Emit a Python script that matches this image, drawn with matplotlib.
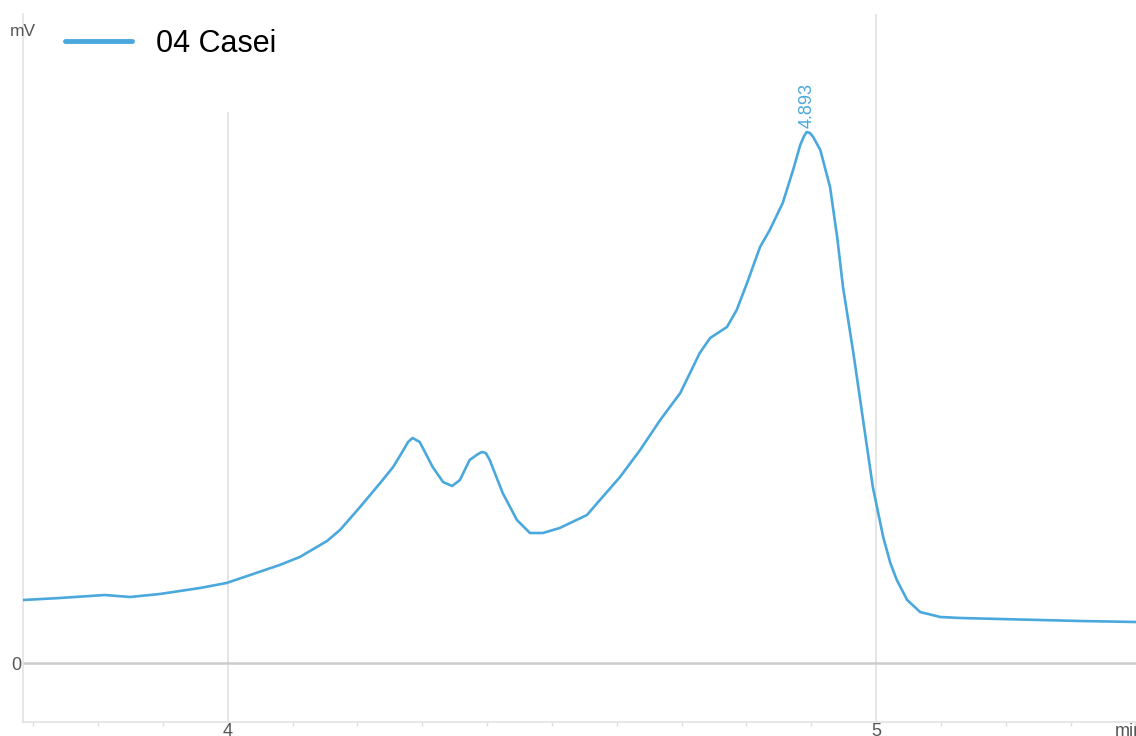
import matplotlib
matplotlib.use("Agg")
import matplotlib.pyplot as plt
from matplotlib.patches import Rectangle
from matplotlib.ticker import MultipleLocator

# Chromatogram trace: retention time (min) and detector signal (mV)
time_min = [3.684, 3.741, 3.810, 3.849, 3.895, 3.957, 3.998, 4.039, 4.080, 4.111,
            4.153, 4.173, 4.204, 4.235, 4.255, 4.270, 4.278, 4.285, 4.296, 4.316,
            4.332, 4.346, 4.358, 4.373, 4.386, 4.392, 4.398, 4.404, 4.424, 4.446,
            4.466, 4.486, 4.512, 4.554, 4.574, 4.605, 4.636, 4.667, 4.698, 4.728,
            4.744, 4.770, 4.785, 4.801, 4.821, 4.836, 4.856, 4.872, 4.883, 4.889,
            4.893, 4.898, 4.903, 4.914, 4.929, 4.940, 4.949, 4.965, 4.980, 4.995,
            5.011, 5.022, 5.032, 5.048, 5.068, 5.099, 5.130, 5.191, 5.253, 5.315,
            5.401]
signal_mv = [6.3, 6.5, 6.8, 6.6, 6.9, 7.5, 8.0, 8.9, 9.8, 10.6,
             12.2, 13.3, 15.6, 18.0, 19.6, 21.2, 22.1, 22.5, 22.1, 19.6,
             18.1, 17.7, 18.3, 20.3, 20.9, 21.1, 21.0, 20.3, 17.0, 14.3,
             13.0, 13.0, 13.5, 14.8, 16.3, 18.6, 21.3, 24.3, 27.0, 31.0,
             32.5, 33.6, 35.3, 38.0, 41.6, 43.3, 46.0, 49.3, 51.8, 52.7,
             53.1, 53.0, 52.6, 51.3, 47.6, 42.6, 37.6, 31.0, 24.3, 17.6,
             12.6, 10.0, 8.3, 6.3, 5.1, 4.6, 4.5, 4.4, 4.3, 4.2,
             4.1]

series_name = "04 Casei"
peak_time = 4.893
peak_signal = 53.1
x_ticks = [4, 5]
y_ticks = [0]

line_color = "#4aa8dc"
grid_color = "#e3e3e3"
text_color = "#555555"

plt.rcParams["font.family"] = ["Liberation Sans", "DejaVu Sans"]

W, H = 1136, 736
fig = plt.figure(figsize=(W / 100, H / 100), dpi=100)
ax = fig.add_axes([23 / W, 14 / H, 1 - 23 / W, (722 - 14) / H])

ax.set_xlim(3.684, 5.401)
ax.set_ylim(-5.9, 64.9)

# vertical grid at the major time ticks, zero baseline
for xt in x_ticks:
    ax.axvline(xt, color=grid_color, lw=1.3, zorder=1)
ax.axhline(0, color="#cccccc", lw=1.8, zorder=1)

# white box behind the legend
ax.add_patch(Rectangle((0.02, (722 - 112) / 708), 0.26, 1, transform=ax.transAxes,
                       facecolor="white", edgecolor="none", zorder=1.5))

ax.plot(time_min, signal_mv, color=line_color, lw=1.9, zorder=3, label=series_name,
        solid_joinstyle="round", solid_capstyle="round")

ax.annotate(f"{peak_time:.3f}", xy=(peak_time, peak_signal), xytext=(0, 3),
            textcoords="offset points", rotation=90, ha="center", va="bottom",
            color=line_color, fontsize=13)

for side in ["top", "right"]:
    ax.spines[side].set_visible(False)
for side in ["left", "bottom"]:
    ax.spines[side].set_color(grid_color)
    ax.spines[side].set_linewidth(1.2)

ax.set_xticks(x_ticks)
ax.set_xticklabels([str(t) for t in x_ticks])
ax.set_yticks(y_ticks)
ax.set_yticklabels([str(t) for t in y_ticks])
ax.xaxis.set_minor_locator(MultipleLocator(0.1))
ax.tick_params(axis="x", which="major", length=0, pad=1, labelsize=13, colors=text_color)
ax.tick_params(axis="x", which="minor", length=3, width=1, color="#dddddd")
ax.tick_params(axis="y", which="major", length=0, pad=1, labelsize=13, colors=text_color)

fig.text(10 / W, 1 - 32 / H, "mV", fontsize=12.5, color=text_color, ha="left", va="center")
fig.text(1115 / W, 1 - 731 / H, "min", fontsize=13, color=text_color, ha="left", va="center")

leg = ax.legend(loc="center left", bbox_to_anchor=(65 / W, 1 - 44 / H),
                bbox_transform=fig.transFigure, frameon=False, fontsize=22,
                handlelength=2.2, handletextpad=0.78, borderpad=0, borderaxespad=0)
for h in leg.get_lines():
    h.set_linewidth(3.5)

fig.savefig("out.png", dpi=100)
